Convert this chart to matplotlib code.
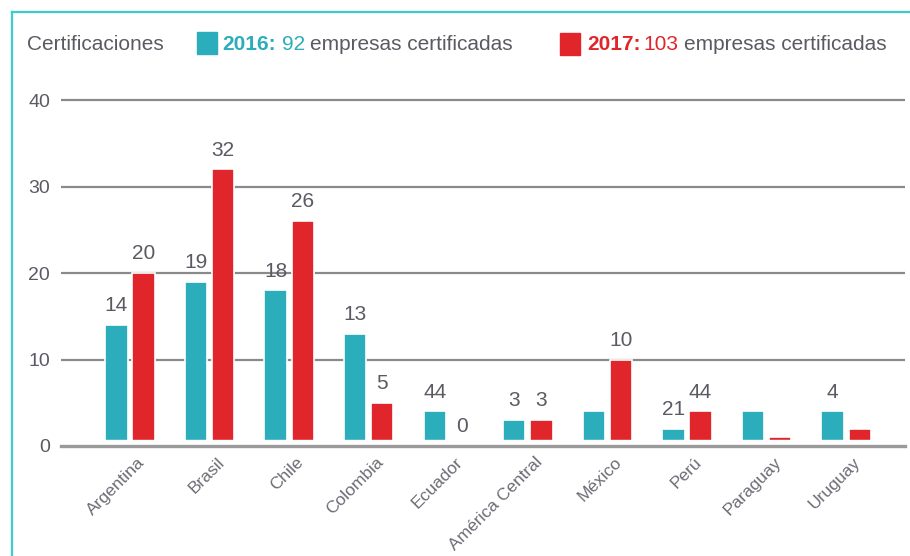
import matplotlib
matplotlib.use("Agg")
import matplotlib.pyplot as plt
import matplotlib.transforms as mtransforms
from matplotlib.patches import Rectangle
from matplotlib.lines import Line2D
import numpy as np

# datos
paises = ["Argentina", "Brasil", "Chile", "Colombia", "Ecuador",
          "América Central", "México", "Perú", "Paraguay", "Uruguay"]
valores_2016 = [14, 19, 18, 13, 4, 3, 4, 2, 4, 4]
valores_2017 = [20, 32, 26, 5, 0, 3, 10, 4, 1, 2]
# etiquetas tal como aparecen en la imagen
etiquetas_2016 = ["14", "19", "18", "13", "44", "3", "", "21", "", "4"]
etiquetas_2017 = ["20", "32", "26", "5", "0", "3", "10", "44", "", ""]

TEAL = "#2badbb"
ROJO = "#e0262b"
GRIS = "#5a5b62"
BORDE = "#3ccccc"

plt.rcParams['font.family'] = ['Liberation Sans', 'DejaVu Sans']

W, H = 910, 556
fig = plt.figure(figsize=(W / 100, H / 100), dpi=100)

def fx(px):
    return px / W

def fy(py):
    return 1 - py / H

ax = fig.add_axes([fx(61), fy(446), fx(905) - fx(61), fy(98.3) - fy(446)])

x = np.arange(len(paises))
ancho = 0.28
desp = 0.17

# lineas de referencia
for v in [10, 20, 30, 40]:
    ax.axhline(v, color="#8a8a8a", lw=1.6, zorder=1)

ax.bar(x - desp, valores_2016, ancho, color=TEAL, edgecolor="white", linewidth=1.2, zorder=3)
ax.bar(x + desp, valores_2017, ancho, color=ROJO, edgecolor="white", linewidth=1.2, zorder=3)

# hueco blanco entre las barras y la linea base
ax.axhspan(0, 0.7, color="white", zorder=4)
ax.axhline(0, color="#9a9a9a", lw=2.4, zorder=5, clip_on=False)

for xi, v, t in zip(x - desp, valores_2016, etiquetas_2016):
    if t:
        ax.annotate(t, (xi, v), xytext=(0, 7), textcoords="offset points",
                    ha="center", va="bottom", fontsize=15, color=GRIS)
for xi, v, t in zip(x + desp, valores_2017, etiquetas_2017):
    if t:
        ax.annotate(t, (xi, v), xytext=(0, 7), textcoords="offset points",
                    ha="center", va="bottom", fontsize=15, color=GRIS)

ax.set_xlim(-0.867, 9.74)
ax.set_ylim(0, 40.2)
ax.set_yticks([0, 10, 20, 30, 40])
ax.set_yticklabels(["0", "10", "20", "30", "40"], fontsize=14, color=GRIS)
ax.tick_params(axis="y", length=0, pad=8)
ax.set_xticks(x)
ax.set_xticklabels(paises, rotation=45, ha="right", rotation_mode="anchor",
                   fontsize=12.5, color="#6c6c74")
ax.tick_params(axis="x", length=0, pad=6)
off = mtransforms.ScaledTranslation(7 / 100, 0, fig.dpi_scale_trans)
for lab in ax.get_xticklabels():
    lab.set_transform(lab.get_transform() + off)

for s in ax.spines.values():
    s.set_visible(False)

# marco
fig.add_artist(Line2D([fx(12), fx(12)], [fy(12), 0], color=BORDE, lw=1.6))
fig.add_artist(Line2D([fx(12), 1], [fy(12), fy(12)], color=BORDE, lw=1.6))

# leyenda: trozos de texto uno detras de otro
renderer = fig.canvas.get_renderer()
ty = fy(44)

def trozos(x0, partes):
    xpos = x0
    for texto, color, peso, hueco in partes:
        t = fig.text(fx(xpos), ty, texto, fontsize=15, color=color,
                     fontweight=peso, va="center")
        ancho_px = t.get_window_extent(renderer).width
        xpos += ancho_px + hueco

fig.text(fx(27), ty, "Certificaciones", fontsize=15, color=GRIS, va="center")
fig.add_artist(Rectangle((fx(197), fy(54)), fx(20), fy(32) - fy(54), color=TEAL))
trozos(222, [("2016:", TEAL, "bold", 6), ("92", TEAL, "normal", 5),
             ("empresas certificadas", GRIS, "normal", 0)])
fig.add_artist(Rectangle((fx(560), fy(55)), fx(20), fy(33) - fy(55), color=ROJO))
trozos(587, [("2017:", ROJO, "bold", 3), ("103", ROJO, "normal", 5),
             ("empresas certificadas", GRIS, "normal", 0)])

fig.savefig("out.png", dpi=100)
